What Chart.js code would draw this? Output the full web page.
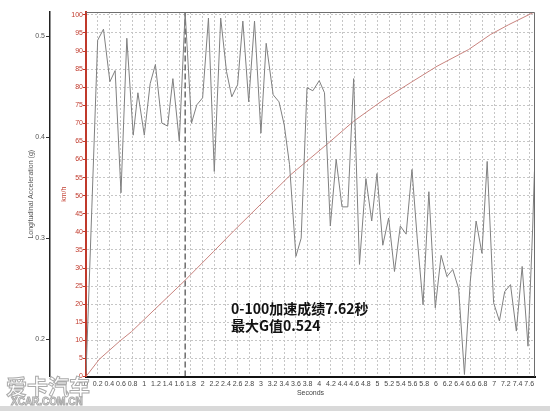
<!DOCTYPE html>
<html>
<head>
<meta charset="utf-8">
<title>0-100 acceleration</title>
<script src="https://cdn.jsdelivr.net/npm/chart.js@4/dist/chart.umd.min.js"></script>
<style>
    html, body { margin: 0; padding: 0; background: #d9d9d9; }
    #wrap { position: relative; width: 550px; height: 406px; background: #fff; }
</style>
</head>
<body>
<div id="wrap"><canvas id="accel-chart"></canvas></div>
<script>
// longitudinal acceleration trace (g)
const gTime = [0, 0.1, 0.2, 0.3, 0.41, 0.5, 0.6, 0.7, 0.81, 0.89,
    1.0, 1.1, 1.19, 1.3, 1.4, 1.49, 1.6, 1.7, 1.81, 1.9,
    2.0, 2.1, 2.2, 2.31, 2.41, 2.5, 2.6, 2.69, 2.79, 2.89,
    3.0, 3.09, 3.21, 3.31, 3.4, 3.49, 3.6, 3.69, 3.79, 3.89,
    4.0, 4.09, 4.19, 4.29, 4.39, 4.49, 4.59, 4.69, 4.8, 4.9,
    4.99, 5.09, 5.19, 5.29, 5.39, 5.49, 5.59, 5.68, 5.78, 5.88,
    5.99, 6.09, 6.19, 6.29, 6.39, 6.49, 6.59, 6.69, 6.79, 6.88,
    6.99, 7.09, 7.18, 7.28, 7.38, 7.48, 7.58, 7.66, 7.69];
const gValue = [0.165, 0.33, 0.496, 0.507, 0.455, 0.466, 0.345, 0.498, 0.402, 0.444,
    0.402, 0.453, 0.472, 0.414, 0.411, 0.458, 0.396, 0.524, 0.414, 0.432,
    0.439, 0.518, 0.366, 0.518, 0.465, 0.440, 0.452, 0.515, 0.435, 0.515,
    0.404, 0.493, 0.442, 0.435, 0.412, 0.373, 0.282, 0.300, 0.449, 0.446,
    0.456, 0.444, 0.312, 0.378, 0.331, 0.331, 0.458, 0.274, 0.359, 0.317,
    0.364, 0.293, 0.320, 0.267, 0.312, 0.304, 0.368, 0.300, 0.234, 0.346,
    0.231, 0.283, 0.262, 0.269, 0.250, 0.165, 0.257, 0.317, 0.285, 0.376,
    0.236, 0.218, 0.247, 0.254, 0.208, 0.272, 0.193, 0.310, 0.366];

// speed trace (km/h)
const speedTime = [0, 0.23, 0.58, 0.78, 1.68, 2.19, 2.53, 3.51, 4.16, 4.59, 5.11, 5.56, 6.02, 6.56, 6.94, 7.25, 7.65, 7.69];
const speedValue = [0, 4.8, 9.8, 12.4, 26.3, 34.6, 40.2, 55.8, 64.6, 70.6, 76.6, 81.2, 85.8, 90.4, 94.6, 97.3, 100.5, 100.7];

// moment of peak g (dashed marker)
const peakTime = 1.7;
const peakSpan = [0, 100.8];

const resultLines = ['0-100加速成绩7.62秒', '最大G值0.524'];
const watermarkLines = ['爱卡汽车', 'XCAR.COM.CN'];

const RED = '#c0392b';
const GRID = '#c6c6c6';

Chart.defaults.font.family = '"Liberation Sans", Arial, sans-serif';

const onStep = (v, step) => Math.abs(v / step - Math.round(v / step)) < 1e-6;

// plot frame, result text and watermark
const decorPlugin = {
    id: 'decor',
    afterDatasetsDraw(chart) {
        const { ctx, chartArea: a } = chart;
        ctx.save();
        ctx.strokeStyle = '#6e6e6e';
        ctx.lineWidth = 1;
        ctx.beginPath();
        ctx.moveTo(a.left, a.top + 0.5);
        ctx.lineTo(a.right - 0.5, a.top + 0.5);
        ctx.lineTo(a.right - 0.5, a.bottom);
        ctx.stroke();
        ctx.restore();
    },
    afterDraw(chart) {
        const ctx = chart.ctx;
        ctx.save();
        ctx.fillStyle = '#111';
        ctx.font = 'bold 14px "Noto Sans CJK SC", sans-serif';
        ctx.textBaseline = 'middle';
        ctx.fillText(resultLines[0], 231, 309);
        ctx.fillText(resultLines[1], 231, 326);

        // faint outlined watermark
        ctx.textBaseline = 'alphabetic';
        ctx.strokeStyle = '#aaaaaa';
        ctx.fillStyle = 'rgba(255,255,255,0.7)';
        ctx.lineWidth = 1;
        ctx.font = 'bold 21px "Noto Sans CJK SC", sans-serif';
        ctx.fillText(watermarkLines[0], 6, 394);
        ctx.strokeText(watermarkLines[0], 6, 394);
        ctx.font = 'bold 10px "Liberation Sans", Arial, sans-serif';
        ctx.fillText(watermarkLines[1], 11, 405);
        ctx.strokeText(watermarkLines[1], 11, 405);
        ctx.restore();
    }
};

const ctx = document.getElementById('accel-chart').getContext('2d');
new Chart(ctx, {
    type: 'line',
    data: {
        datasets: [{
            label: 'Longitudinal Acceleration (g)',
            data: gTime.map((t, i) => ({ x: t, y: gValue[i] })),
            yAxisID: 'g',
            borderColor: '#808080',
            borderWidth: 1,
            pointRadius: 0,
            tension: 0
        }, {
            label: 'km/h',
            data: speedTime.map((t, i) => ({ x: t, y: speedValue[i] })),
            yAxisID: 'kmh',
            borderColor: '#c8837e',
            borderWidth: 1,
            pointRadius: 0,
            tension: 0
        }, {
            label: 'peak',
            data: peakSpan.map(v => ({ x: peakTime, y: v })),
            yAxisID: 'kmh',
            borderColor: '#222',
            borderWidth: 1,
            borderDash: [6, 3],
            pointRadius: 0
        }]
    },
    options: {
        responsive: true,
        maintainAspectRatio: false,
        animation: false,
        layout: { padding: { top: 12, right: 15, left: 0, bottom: 0 } },
        plugins: {
            legend: { display: false },
            tooltip: { enabled: false }
        },
        scales: {
            x: {
                type: 'linear',
                min: 0,
                max: 7.7,
                ticks: {
                    stepSize: 0.2,
                    includeBounds: false,
                    autoSkip: false,
                    maxRotation: 0,
                    padding: 3,
                    color: '#444',
                    font: { size: 7 },
                    callback: v => String(Math.round(v * 10) / 10)
                },
                afterBuildTicks: s => { s.ticks = s.ticks.filter(t => onStep(t.value, 0.2)); },
                grid: {
                    drawTicks: false,
                    color: c => (c.tick && c.tick.value === 0 ? 'rgba(0,0,0,0)' : GRID)
                },
                border: { color: '#111', width: 2, dash: [2, 2] },
                title: { display: true, text: 'Seconds', color: '#444', font: { size: 7 }, padding: { top: 0, bottom: 8.8 } },
                afterFit: s => { s.height = 29.5; }
            },
            g: {
                type: 'linear',
                position: 'left',
                weight: 1,
                min: 0.163,
                max: 0.524,
                ticks: {
                    stepSize: 0.1,
                    includeBounds: false,
                    padding: 1,
                    color: '#555',
                    font: { size: 7 },
                    callback: v => String(Math.round(v * 10) / 10)
                },
                afterBuildTicks: s => { s.ticks = s.ticks.filter(t => onStep(t.value, 0.1)); },
                grid: { drawOnChartArea: false, tickLength: 4, tickColor: '#333' },
                border: { color: '#222', width: 1.5 },
                title: { display: true, text: 'Longitudinal Acceleration (g)', color: '#555', font: { size: 7 }, padding: { top: 26.8, bottom: 0 } },
                afterFit: s => { s.width = 50; }
            },
            kmh: {
                type: 'linear',
                position: 'left',
                weight: 0,
                min: 0,
                max: 100.8,
                ticks: {
                    stepSize: 5,
                    includeBounds: false,
                    padding: 0,
                    color: RED,
                    font: { size: 7 }
                },
                afterBuildTicks: s => { s.ticks = s.ticks.filter(t => onStep(t.value, 5)); },
                grid: {
                    tickLength: 3,
                    tickColor: RED,
                    color: c => (c.tick && c.tick.value === 0 ? 'rgba(0,0,0,0)' : GRID)
                },
                border: { color: RED, width: 2, dash: [2, 2] },
                title: { display: true, text: 'km/h', color: RED, font: { size: 7 }, padding: { top: 9.8, bottom: 0 } },
                afterFit: s => { s.width = 36; }
            }
        }
    },
    plugins: [decorPlugin]
});
</script>
</body>
</html>
